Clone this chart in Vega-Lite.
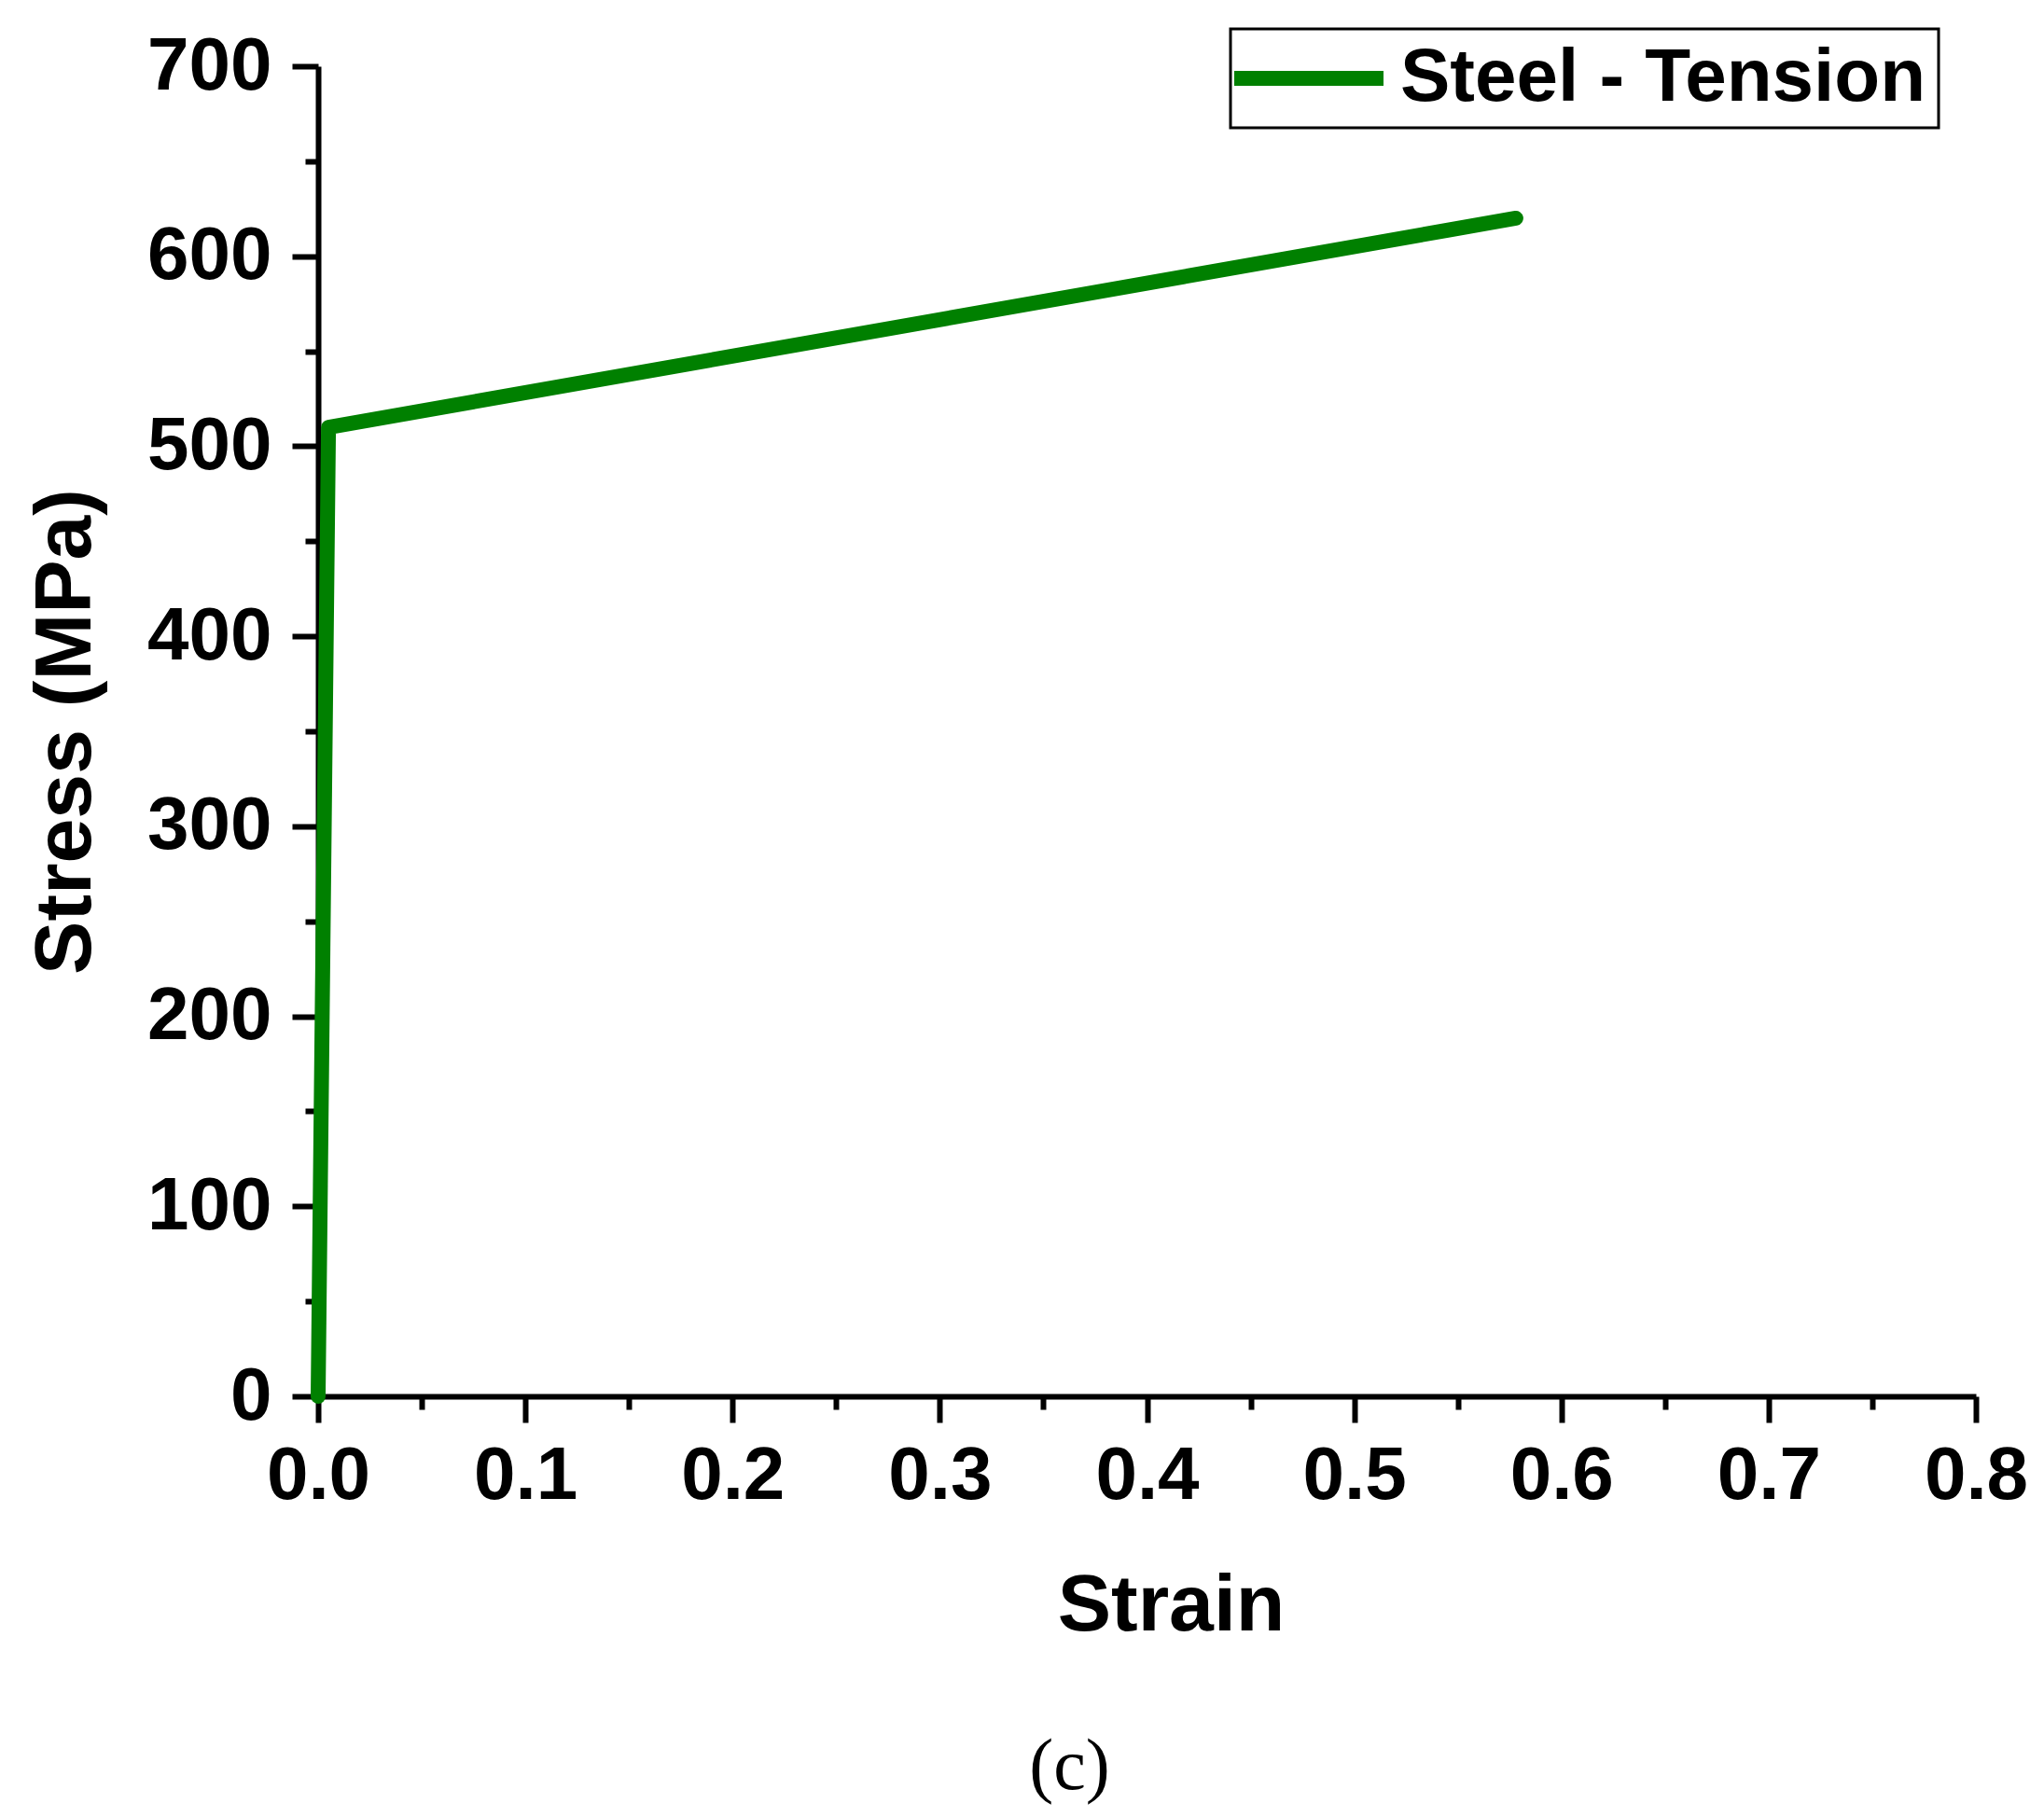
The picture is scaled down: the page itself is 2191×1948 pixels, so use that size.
{
  "$schema": "https://vega.github.io/schema/vega-lite/v6.json",
  "width": 1777,
  "height": 1426,
  "autosize": {"type": "none"},
  "padding": {"left": 341, "top": 71, "right": 73, "bottom": 451},
  "background": "white",
  "title": {
    "text": "(c)",
    "orient": "bottom",
    "anchor": "middle",
    "font": "Liberation Serif",
    "fontSize": 78,
    "fontWeight": "normal",
    "color": "black",
    "dx": -83,
    "offset": 92
  },
  "data": {
    "values": [
      {"strain": 0, "stress": 0, "series": "Steel - Tension"},
      {"strain": 0.005, "stress": 510, "series": "Steel - Tension"},
      {"strain": 0.578, "stress": 620, "series": "Steel - Tension"}
    ]
  },
  "mark": {"type": "line", "strokeWidth": 16, "strokeCap": "round", "strokeJoin": "round"},
  "encoding": {
    "x": {
      "field": "strain",
      "type": "quantitative",
      "title": "Strain",
      "scale": {"domain": [0, 0.8], "nice": false},
      "axis": {
        "values": [0, 0.05, 0.1, 0.15, 0.2, 0.25, 0.3, 0.35, 0.4, 0.45, 0.5, 0.55, 0.6, 0.65, 0.7, 0.75, 0.8],
        "labelExpr": "round(datum.value * 20) % 2 === 0 ? format(datum.value, '.1f') : ''",
        "tickSize": {"condition": {"test": "round(datum.value * 20) % 2 === 0", "value": 28}, "value": 14},
        "labelFlush": false,
        "labelPadding": 18,
        "titlePadding": 57,
        "titleX": 914
      }
    },
    "y": {
      "field": "stress",
      "type": "quantitative",
      "title": "Stress (MPa)",
      "scale": {"domain": [0, 700], "nice": false},
      "axis": {
        "values": [0, 50, 100, 150, 200, 250, 300, 350, 400, 450, 500, 550, 600, 650, 700],
        "labelExpr": "datum.value % 100 === 0 ? datum.label : ''",
        "tickSize": {"condition": {"test": "datum.value % 100 === 0", "value": 28}, "value": 14},
        "labelFlush": false,
        "labelPadding": 22,
        "titlePadding": 43
      }
    },
    "color": {
      "field": "series",
      "type": "nominal",
      "scale": {"range": ["#008000"]},
      "legend": {
        "title": null,
        "orient": "none",
        "legendX": 978,
        "legendY": -40,
        "strokeColor": "black",
        "fillColor": "white",
        "padding": 13,
        "symbolType": "M-1.96,0H4.44",
        "symbolSize": 2500,
        "symbolStrokeWidth": 16,
        "labelFontSize": 80,
        "labelFont": "Liberation Sans",
        "labelFontWeight": "bold",
        "labelColor": "black",
        "labelLimit": 2000,
        "labelOffset": 89,
        "encode": {"legend": {"update": {"strokeWidth": {"value": 3}}}}
      }
    }
  },
  "config": {
    "view": {"stroke": null},
    "axis": {
      "grid": false,
      "domainColor": "black",
      "domainWidth": 6,
      "tickColor": "black",
      "tickWidth": 6,
      "labelFont": "Liberation Sans",
      "labelFontWeight": "bold",
      "labelFontSize": 80,
      "labelColor": "black",
      "titleFont": "Liberation Sans",
      "titleFontWeight": "bold",
      "titleFontSize": 86,
      "titleColor": "black"
    }
  }
}
